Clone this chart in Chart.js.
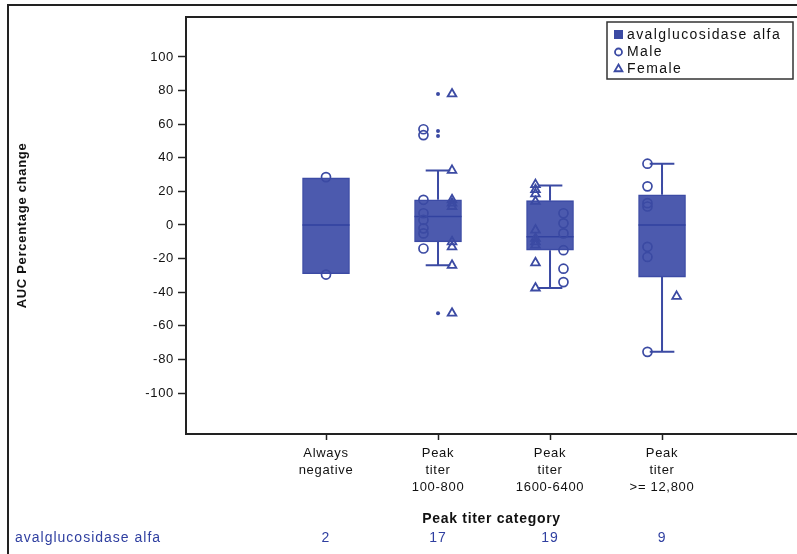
<!DOCTYPE html>
<html>
<head>
<meta charset="utf-8">
<script src="https://cdn.jsdelivr.net/npm/chart.js@4.4.1/dist/chart.umd.min.js"></script>
<style>
  html, body { margin: 0; padding: 0; background: #fff; }
  #wrap { position: relative; width: 797px; height: 554px; overflow: hidden; }
  #frame { position: absolute; left: 7px; top: 4px; width: 800px; height: 548px;
           border-left: 2px solid #222; border-top: 2px solid #222; border-bottom: 1px solid #ccc; }
  canvas { position: absolute; left: 0; top: 0; }
</style>
</head>
<body>
<div id="wrap">
  <div id="frame"></div>
  <canvas id="chart" width="797" height="554"></canvas>
</div>
<script>
// categories and counts
const categories = ['Always negative', 'Peak titer 100-800', 'Peak titer 1600-6400', 'Peak titer >= 12,800'];
const tickLines = [['Always', 'negative'], ['Peak', 'titer', '100-800'], ['Peak', 'titer', '1600-6400'], ['Peak', 'titer', '>= 12,800']];
const counts = [2, 17, 19, 9];
const yTicks = [-100, -80, -60, -40, -20, 0, 20, 40, 60, 80, 100];

// box statistics
const q1 = [-29, -10, -15, -31];
const median = [0, 5, -7, 0];
const q3 = [28, 15, 14.5, 18];
const whiskerLow = [null, -24, -37.5, -75.5];
const whiskerHigh = [null, 32.5, 23.5, 36.5];
const outliers = [[], [78, 56, 53, -52.5], [], []];

// individual patients
const male = [
  [28.5, -29.5],
  [57, 53.5, 15, 7, 3, -2, -5, -14],
  [7, 1, -5, -15, -26, -34],
  [36.5, 23, 13, 11, -13, -19, -75.5]
];
const female = [
  [],
  [78, 32.5, 15, 13, 11, -10, -13, -24, -52.5],
  [24, 21, 18.5, 14, -3, -8, -10, -12, -22.5, -37.5],
  [-42.5]
];

const BLUE = '#3b4aa3';
const FILL = 'rgba(62,77,168,0.93)';
const maleShift = [0, -0.13, 0.12, -0.13];
const femaleShift = [0, 0.125, -0.13, 0.13];
const capHalf = 0.11;
const medHalf = 0.21;

const boxData = categories.map((c, i) => ({ x: i, y: [q1[i], q3[i]] }));
const medianData = [];
const whiskerData = [];
categories.forEach((c, i) => {
  medianData.push({ x: i - medHalf, y: median[i] }, { x: i + medHalf, y: median[i] }, { x: i, y: null });
  if (whiskerHigh[i] !== null) {
    whiskerData.push({ x: i, y: q3[i] }, { x: i, y: whiskerHigh[i] }, { x: i, y: null });
    whiskerData.push({ x: i - capHalf, y: whiskerHigh[i] }, { x: i + capHalf, y: whiskerHigh[i] }, { x: i, y: null });
    whiskerData.push({ x: i, y: q1[i] }, { x: i, y: whiskerLow[i] }, { x: i, y: null });
    whiskerData.push({ x: i - capHalf, y: whiskerLow[i] }, { x: i + capHalf, y: whiskerLow[i] }, { x: i, y: null });
  }
});
const maleData = male.flatMap((vals, i) => vals.map(v => ({ x: i + maleShift[i], y: v })));
const femaleData = female.flatMap((vals, i) => vals.map(v => ({ x: i + femaleShift[i], y: v })));
const outlierData = outliers.flatMap((vals, i) => vals.map(v => ({ x: i, y: v })));

const FONT = "'Liberation Sans', Arial, sans-serif";

const extras = {
  id: 'extras',
  beforeDraw(chart) {
    chart.ctx.letterSpacing = '0.7px';
  },
  afterDraw(chart) {
    const { ctx, chartArea, scales } = chart;
    ctx.save();
    // top frame line
    ctx.strokeStyle = '#222';
    ctx.lineWidth = 2;
    ctx.beginPath();
    ctx.moveTo(chartArea.left, chartArea.top);
    ctx.lineTo(chartArea.right, chartArea.top);
    ctx.stroke();

    // legend
    const lx = 607, ly = 22, lw = 186, lh = 57;
    ctx.fillStyle = '#fff';
    ctx.fillRect(lx, ly, lw, lh);
    ctx.strokeStyle = '#333';
    ctx.lineWidth = 1.5;
    ctx.strokeRect(lx, ly, lw, lh);
    ctx.fillStyle = BLUE;
    ctx.fillRect(614, 30, 9, 9);
    ctx.fillStyle = '#fff';
    ctx.strokeStyle = BLUE;
    ctx.lineWidth = 1.8;
    Chart.helpers.drawPoint(ctx, { pointStyle: 'circle', radius: 3.5, borderWidth: 1.8 }, 618.5, 52);
    Chart.helpers.drawPoint(ctx, { pointStyle: 'triangle', radius: 4.5, borderWidth: 1.8 }, 618.5, 69);
    ctx.fillStyle = '#111';
    ctx.font = '14px ' + FONT;
    ctx.letterSpacing = '1.4px';
    ctx.textAlign = 'left';
    ctx.textBaseline = 'middle';
    ctx.fillText('avalglucosidase alfa', 627, 35);
    ctx.fillText('Male', 627, 52);
    ctx.fillText('Female', 627, 69);

    // count row
    ctx.letterSpacing = '1px';
    ctx.fillStyle = '#2f3fa0';
    ctx.fillText('avalglucosidase alfa', 15, 538);
    ctx.textAlign = 'center';
    counts.forEach((n, i) => ctx.fillText(String(n), scales.x.getPixelForValue(i), 538));
    ctx.restore();
  }
};

new Chart(document.getElementById('chart'), {
  data: {
    datasets: [
      { type: 'bar', label: 'avalglucosidase alfa', data: boxData, backgroundColor: FILL,
        borderColor: BLUE, borderWidth: 1, borderSkipped: false, barThickness: 47, order: 5 },
      { type: 'line', label: 'median', data: medianData, borderColor: '#3242a0', borderWidth: 1.5,
        pointRadius: 0, spanGaps: false, order: 4 },
      { type: 'line', label: 'whisker', data: whiskerData, borderColor: BLUE, borderWidth: 2,
        pointRadius: 0, spanGaps: false, order: 6 },
      { type: 'scatter', label: 'Male', data: maleData, pointStyle: 'circle', pointRadius: 4.5,
        borderColor: BLUE, backgroundColor: 'rgba(0,0,0,0)', borderWidth: 1.7, order: 2 },
      { type: 'scatter', label: 'Female', data: femaleData, pointStyle: 'triangle', pointRadius: 5,
        borderColor: BLUE, backgroundColor: 'rgba(0,0,0,0)', borderWidth: 1.8, order: 1 },
      { type: 'scatter', label: 'outlier', data: outlierData, pointStyle: 'circle', pointRadius: 2,
        borderColor: BLUE, backgroundColor: BLUE, borderWidth: 0, order: 3 }
    ]
  },
  options: {
    responsive: false,
    animation: false,
    layout: { autoPadding: false, padding: { top: 17, right: 0, bottom: 26, left: 0 } },
    plugins: { legend: { display: false }, tooltip: { enabled: false } },
    scales: {
      x: {
        type: 'linear',
        offset: false,
        min: -1.25,
        max: 4.205,
        afterBuildTicks: s => { s.ticks = categories.map((c, i) => ({ value: i })); },
        afterFit: s => { s.height = 94; },
        grid: { offset: false, drawOnChartArea: false, drawTicks: true, tickLength: 6, tickColor: '#222', tickWidth: 1.5 },
        border: { color: '#222', width: 2 },
        ticks: {
          color: '#111', font: { family: FONT, size: 13, lineHeight: 1.3 }, padding: 5,
          maxRotation: 0, autoSkip: false,
          callback: (v) => tickLines[v] || ''
        },
        title: { display: true, text: 'Peak titer category', color: '#111',
                 font: { family: FONT, size: 14, weight: 'bold' }, padding: { top: 0, bottom: 0 } }
      },
      y: {
        min: -124.4,
        max: 123.8,
        afterBuildTicks: s => { s.ticks = yTicks.map(v => ({ value: v })); },
        afterFit: s => { s.width = 186; },
        grid: { drawOnChartArea: false, drawTicks: true, tickLength: 8, tickColor: '#222', tickWidth: 1.5 },
        border: { color: '#222', width: 2 },
        ticks: { color: '#111', font: { family: FONT, size: 13 }, padding: 4 },
        title: { display: true, text: 'AUC Percentage change', color: '#111',
                 font: { family: FONT, size: 13, weight: 'bold' }, padding: { top: 15, bottom: 0 } }
      }
    }
  },
  plugins: [extras]
});
</script>
</body>
</html>
